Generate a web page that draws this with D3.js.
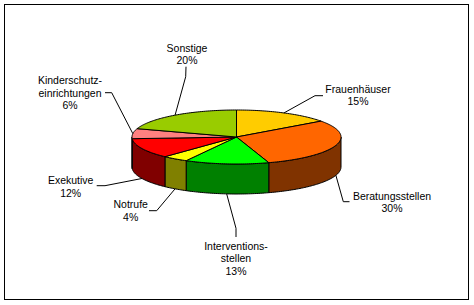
<!DOCTYPE html>
<html>
<head>
<meta charset="utf-8">
<script src="https://cdn.jsdelivr.net/npm/d3@7"></script>
<style>
  html, body { margin: 0; padding: 0; background: #fff; }
  svg { display: block; }
  text { font-family: "Liberation Sans", Arial, sans-serif; font-size: 10.5px; fill: #000; }
</style>
</head>
<body>
<svg id="chart" width="474" height="305"></svg>
<script>
// ---- data ----
const categories = ["Frauenhäuser", "Beratungsstellen", "Interventionsstellen", "Notrufe", "Exekutive", "Kinderschutzeinrichtungen", "Sonstige"];
const labelLines = [["Frauenhäuser"], ["Beratungsstellen"], ["Interventions-", "stellen"], ["Notrufe"], ["Exekutive"], ["Kinderschutz-", "einrichtungen"], ["Sonstige"]];
const values = [15, 30, 13, 4, 12, 6, 20];
const topColors = ["#FFCC00", "#FF6600", "#00FF00", "#FFFF00", "#FF0000", "#FF8080", "#99CC00"];
const sideColors = ["#806600", "#803300", "#008000", "#808000", "#800000", "#804040", "#4C6600"];

// ---- layout ----
const cx = 236.5, cy = 137, rx = 104.5, ry = 27, depth = 30;
// label layout: text center x, first line center y, elbow point, end point
const labelLayout = [
  {tx: 358, ty: 88.7, ex: 315, ey: 95.7, fx: 323, fy: 95.7},
  {tx: 392, ty: 195.7, ex: 343.3, ey: 201.7, fx: 349.5, fy: 201.7},
  {tx: 236, ty: 245.7, ex: 236, ey: 228.3, fx: 236, fy: 237},
  {tx: 130.7, ty: 204.3, ex: 156.7, ey: 210.7, fx: 149, fy: 210.7},
  {tx: 70.7, ty: 180, ex: 105, ey: 185.7, fx: 96.7, fy: 185.7},
  {tx: 70, ty: 80, ex: 111.7, ey: 92.7, fx: 105, fy: 92.7},
  {tx: 187, ty: 47.7, ex: 185.7, ey: 76.7, fx: 186, fy: 66.7}
];
const lineH = 12.7;

const svg = d3.select("#chart");
svg.append("rect").attr("x", 4.5).attr("y", 4.5).attr("width", 464).attr("height", 295)
  .attr("fill", "#fff").attr("stroke", "#000").attr("stroke-width", 1);

const pie = d3.pie().sort(null).value(d => d)(values);
const total = d3.sum(values);
const pct = d3.scaleLinear().domain([0, total]).range([0, 100]);

const px = a => cx + rx * Math.sin(a);
const py = a => cy - ry * Math.cos(a);

function arcPts(a0, a1, dy) {
  const n = Math.max(2, Math.ceil(Math.abs(a1 - a0) / 0.02));
  const pts = [];
  for (let i = 0; i <= n; i++) {
    const a = a0 + (a1 - a0) * i / n;
    pts.push([px(a), py(a) + dy]);
  }
  return pts;
}

const line = d3.line();
const g = svg.append("g");

// side walls (visible front half: PI/2 .. 3PI/2)
pie.forEach((d, i) => {
  const s = Math.max(d.startAngle, Math.PI / 2);
  const e = Math.min(d.endAngle, 3 * Math.PI / 2);
  if (e <= s) return;
  const pts = arcPts(s, e, 0).concat(arcPts(e, s, depth));
  g.append("path").attr("d", line(pts) + "Z")
    .attr("fill", sideColors[i]).attr("stroke", "#000").attr("stroke-width", 1)
    .attr("stroke-linejoin", "round");
});

// top faces
pie.forEach((d, i) => {
  const pts = [[cx, cy]].concat(arcPts(d.startAngle, d.endAngle, 0));
  g.append("path").attr("d", line(pts) + "Z")
    .attr("fill", topColors[i]).attr("stroke", "#000").attr("stroke-width", 1)
    .attr("stroke-linejoin", "round");
});

// leader lines and labels
pie.forEach((d, i) => {
  const m = (d.startAngle + d.endAngle) / 2;
  const front = m > Math.PI / 2 && m < 3 * Math.PI / 2;
  const sx = px(m), sy = py(m) + (front ? depth : 0);
  const L = labelLayout[i];
  svg.append("path").attr("d", line([[sx, sy], [L.ex, L.ey], [L.fx, L.fy]]))
    .attr("fill", "none").attr("stroke", "#000").attr("stroke-width", 1);
  const lines = labelLines[i].concat([Math.round(pct(values[i])) + "%"]);
  const t = svg.append("text").attr("text-anchor", "middle");
  lines.forEach((s, k) => {
    t.append("tspan").attr("x", L.tx).attr("y", L.ty + k * lineH)
      .attr("dominant-baseline", "central").text(s);
  });
});
</script>
</body>
</html>
